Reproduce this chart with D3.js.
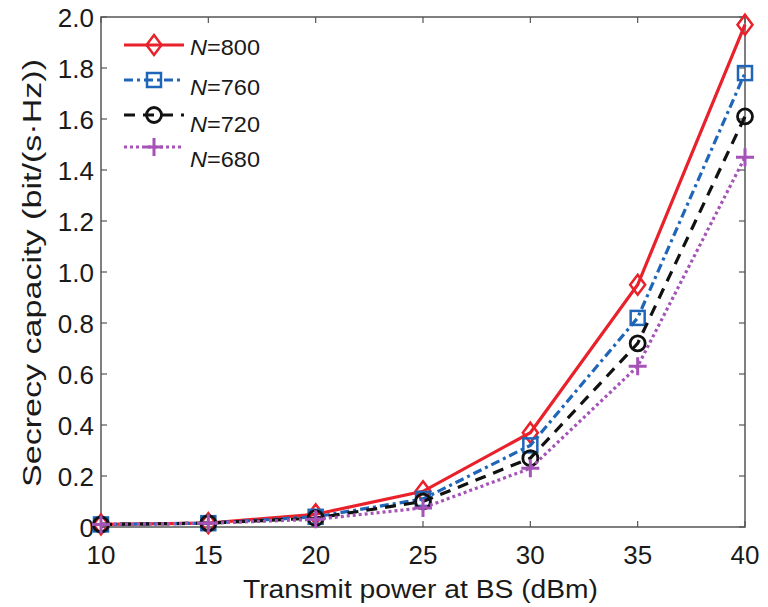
<!DOCTYPE html>
<html lang="en">
<head>
  <meta charset="UTF-8">
  <title>Secrecy capacity vs transmit power</title>
  <script src="https://d3js.org/d3.v7.min.js"></script>
  <style>
    body { margin: 0; background: #fff; font-family: "Liberation Sans", Arial, sans-serif; }
    svg { display: block; }
    .tick-label { font-size: 26px; fill: #1a1a1a; }
    .axis-title { font-size: 25px; fill: #1a1a1a; }
    .legend text { font-size: 22px; fill: #1a1a1a; }
  </style>
</head>
<body>
  <script>
    const powers = [10, 15, 20, 25, 30, 35, 40];
    const xTicks = [10, 15, 20, 25, 30, 35, 40];
    const yTicks = [0, 0.2, 0.4, 0.6, 0.8, 1.0, 1.2, 1.4, 1.6, 1.8, 2.0];

    const cap800 = [0.01, 0.015, 0.05, 0.14, 0.37, 0.95, 1.97];
    const cap760 = [0.01, 0.015, 0.04, 0.11, 0.32, 0.82, 1.78];
    const cap720 = [0.01, 0.015, 0.035, 0.10, 0.27, 0.72, 1.61];
    const cap680 = [0.01, 0.015, 0.03, 0.075, 0.23, 0.63, 1.45];

    const series = [
      { label: "800", values: cap800, color: "#e8212b", dash: null, marker: "diamond" },
      { label: "760", values: cap760, color: "#1f66b8", dash: "9,4,3,4", marker: "square" },
      { label: "720", values: cap720, color: "#111111", dash: "11,8", marker: "circle" },
      { label: "680", values: cap680, color: "#a653b8", dash: "3,3", marker: "plus" }
    ];

    const width = 768, height = 607;
    const plotLeft = 101, plotRight = 745, plotTop = 17, plotBottom = 527;

    const svg = d3.select("body").append("svg")
      .attr("width", width).attr("height", height);

    const x = d3.scaleLinear().domain([10, 40]).range([plotLeft, plotRight]);
    const y = d3.scaleLinear().domain([0, 2]).range([plotBottom, plotTop]);

    // Box and inward ticks on all four sides
    const tl = 6;
    const axisColor = "#555";
    const g = svg.append("g");
    xTicks.forEach(t => {
      g.append("line").attr("x1", x(t)).attr("x2", x(t)).attr("y1", plotBottom).attr("y2", plotBottom - tl)
        .attr("stroke", axisColor).attr("stroke-width", 1.2);
      g.append("line").attr("x1", x(t)).attr("x2", x(t)).attr("y1", plotTop).attr("y2", plotTop + tl)
        .attr("stroke", axisColor).attr("stroke-width", 1.2);
      g.append("text").attr("class", "tick-label")
        .attr("x", x(t)).attr("y", 564).attr("text-anchor", "middle")
        .text(t);
    });
    yTicks.forEach(t => {
      g.append("line").attr("x1", plotLeft).attr("x2", plotLeft + tl).attr("y1", y(t)).attr("y2", y(t))
        .attr("stroke", axisColor).attr("stroke-width", 1.2);
      g.append("line").attr("x1", plotRight).attr("x2", plotRight - tl).attr("y1", y(t)).attr("y2", y(t))
        .attr("stroke", axisColor).attr("stroke-width", 1.2);
      g.append("text").attr("class", "tick-label")
        .attr("x", plotLeft - 7).attr("y", y(t) + 9.5).attr("text-anchor", "end")
        .text(t === 0 ? "0" : d3.format(".1f")(t));
    });
    g.append("rect").attr("x", plotLeft).attr("y", plotTop)
      .attr("width", plotRight - plotLeft).attr("height", plotBottom - plotTop)
      .attr("fill", "none").attr("stroke", axisColor).attr("stroke-width", 1.5);

    // Axis titles
    svg.append("text").attr("class", "axis-title")
      .attr("x", 243).attr("y", 598)
      .attr("textLength", 355).attr("lengthAdjust", "spacingAndGlyphs")
      .text("Transmit power at BS (dBm)");
    svg.append("text").attr("class", "axis-title")
      .attr("transform", `translate(41,487) rotate(-90)`)
      .attr("textLength", 428).attr("lengthAdjust", "spacingAndGlyphs")
      .text("Secrecy capacity (bit/(s·Hz))");

    function drawMarker(sel, type, color) {
      if (type === "diamond") {
        sel.append("path").attr("d", "M0,-10L7.5,0L0,10L-7.5,0Z")
          .attr("fill", "none").attr("stroke", color).attr("stroke-width", 2.5);
      } else if (type === "square") {
        sel.append("rect").attr("x", -7).attr("y", -7).attr("width", 14).attr("height", 14)
          .attr("fill", "none").attr("stroke", color).attr("stroke-width", 2.5);
      } else if (type === "circle") {
        sel.append("circle").attr("r", 7.5)
          .attr("fill", "none").attr("stroke", color).attr("stroke-width", 2.8);
      } else {
        sel.append("path").attr("d", "M-9,0L9,0M0,-9L0,9")
          .attr("stroke", color).attr("stroke-width", 3);
      }
    }

    const line = d3.line().x((d, i) => x(powers[i])).y(d => y(d));

    series.forEach(s => {
      svg.append("path").datum(s.values)
        .attr("d", line)
        .attr("fill", "none")
        .attr("stroke", s.color)
        .attr("stroke-width", 3.2)
        .attr("stroke-dasharray", s.dash);
      s.values.forEach((v, i) => {
        const m = svg.append("g").attr("transform", `translate(${x(powers[i])},${y(v)})`);
        drawMarker(m, s.marker, s.color);
      });
    });

    // Legend
    const legendMarkerY = [45, 80, 115, 147];
    const legendTextY = [55, 95, 132, 167];
    const legend = svg.append("g").attr("class", "legend");
    series.forEach((s, i) => {
      legend.append("line")
        .attr("x1", 124).attr("x2", 184)
        .attr("y1", legendMarkerY[i]).attr("y2", legendMarkerY[i])
        .attr("stroke", s.color).attr("stroke-width", 3.2)
        .attr("stroke-dasharray", s.dash);
      const m = legend.append("g").attr("transform", `translate(154,${legendMarkerY[i]})`);
      drawMarker(m, s.marker, s.color);
      const t = legend.append("text").attr("x", 190).attr("y", legendTextY[i])
        .attr("textLength", 70).attr("lengthAdjust", "spacingAndGlyphs");
      t.append("tspan").attr("font-style", "italic").text("N");
      t.append("tspan").text("=" + s.label);
    });
  </script>
</body>
</html>
